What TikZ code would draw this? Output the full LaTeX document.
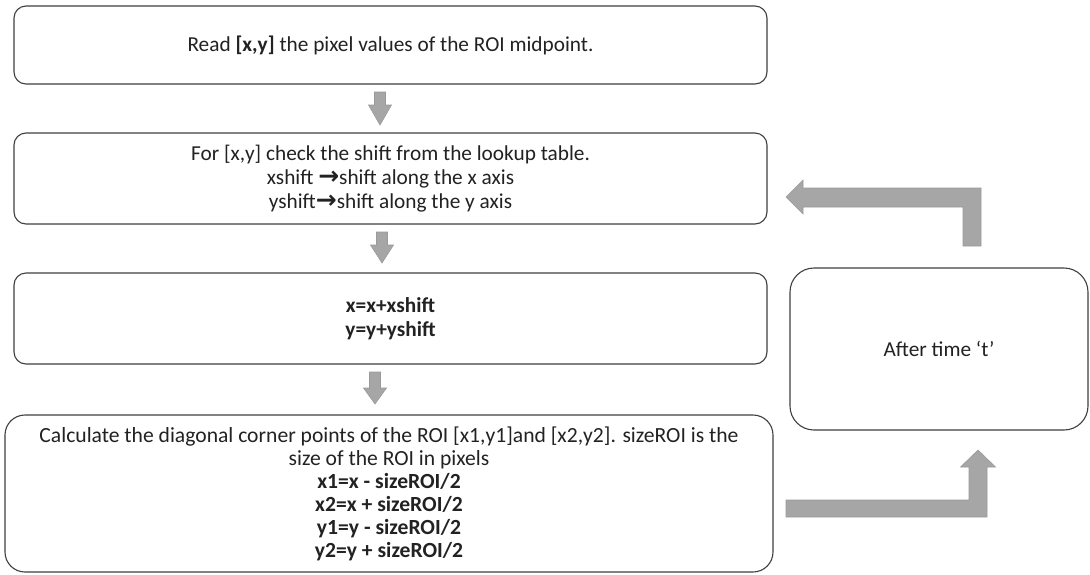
\documentclass[tikz,border=0pt]{standalone}
\usepackage{fontspec}
\setmainfont{Carlito}
\newfontfamily\arrowfont{DejaVu Sans}
\definecolor{boxline}{HTML}{3F3F3F}
\definecolor{blockgray}{HTML}{A6A6A6}
\definecolor{blockedge}{HTML}{9A9A9A}
\definecolor{ink}{HTML}{222222}
\newcommand\rarr{{\arrowfont\bfseries\fontsize{25}{24}\selectfont\char"2192}}
\tikzset{
  stepbox/.style={draw=boxline, line width=1.1pt, rounded corners=12pt,
    fill=white, align=center, text=ink, inner sep=0pt,
    font=\fontsize{21.3}{24}\selectfont},
  blockarrow/.style={fill=blockgray, draw=blockedge, line width=0.6pt},
}
% straight block arrow pointing down: x, top of shaft, start of head, tip
\newcommand\downblock[4]{%
  \filldraw[blockarrow] (#1-5.5,#2) -- (#1+5.5,#2) -- (#1+5.5,#3)
    -- (#1+11.5,#3) -- (#1,#4) -- (#1-11.5,#3) -- (#1-5.5,#3) -- cycle;}
\begin{document}
\begin{tikzpicture}[x=1pt,y=-1pt]
\useasboundingbox (0,0) rectangle (1090,574);

\node[stepbox, minimum width=753pt, minimum height=78pt] (read) at (390.5,45)
  {Read \textbf{[x,y]} the pixel values of the ROI midpoint.};

\node[stepbox, minimum width=753pt, minimum height=91pt] (lookup) at (390.5,178.5)
  {For [x,y] check the shift from the lookup table.\\
   xshift \rarr shift along the x axis\\
   yshift\rarr shift along the y axis};

\node[stepbox, minimum width=753pt, minimum height=91pt] (update) at (390.5,318.5)
  {\textbf{x=x+xshift}\\ \textbf{y=y+yshift}};

\node[stepbox, rounded corners=20pt, minimum width=768pt, minimum height=157pt,
  font=\fontsize{21.6}{23}\selectfont] (corners) at (389,493.5)
  {Calculate the diagonal corner points of the ROI [x1,y1]and [x2,y2]. sizeROI is the\\
   size of the ROI in pixels\\
   \textbf{x1=x - sizeROI/2}\\
   \textbf{x2=x + sizeROI/2}\\
   \textbf{y1=y - sizeROI/2}\\
   \textbf{y2=y + sizeROI/2}};

\node[stepbox, rounded corners=24pt, minimum width=298pt, minimum height=162pt]
  (wait) at (939,349) {After time ‘t’};

% arrows between the steps
\downblock{380}{92}{105}{125}
\downblock{382}{232}{245}{263}
\downblock{375}{372}{388}{404}

% loop back: into the waiting step, and from it to the lookup step
\filldraw[blockarrow] (786,500) -- (969,500) -- (969,467) -- (960.5,467)
  -- (978,450) -- (995.5,467) -- (987,467) -- (987,517) -- (786,517) -- cycle;
\filldraw[blockarrow] (786,197) -- (803,180) -- (803,188) -- (981,188)
  -- (981,246) -- (963,246) -- (963,207) -- (803,207) -- (803,214) -- cycle;
\end{tikzpicture}
\end{document}
